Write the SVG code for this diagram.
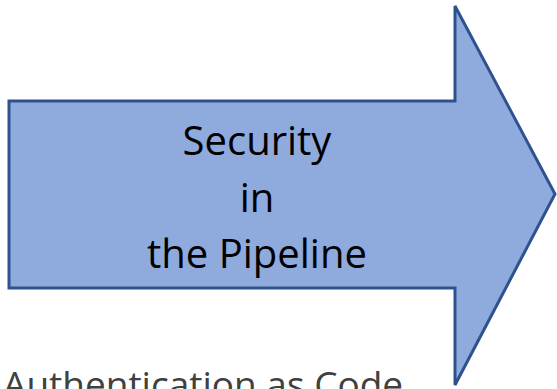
<svg xmlns="http://www.w3.org/2000/svg" width="557" height="389" viewBox="0 0 557 389">
<style>
.lbl{font-family:"Open Sans","Liberation Sans",sans-serif;font-size:40px;fill:#000;text-anchor:middle}
.sub{font-family:"Open Sans","Liberation Sans",sans-serif;font-size:37px;fill:#404040}
</style>
<g id="arrow">
<path d="M9,101 L455,101 L455,6 L555,194 L455,385 L455,288 L9,288 Z" fill="#8FAADC" stroke="#2F528F" stroke-width="3" stroke-linejoin="miter"/>
<text class="lbl" x="257" y="155">Security</text>
<text class="lbl" x="257" y="212">in</text>
<text class="lbl" x="257" y="268">the Pipeline</text>
</g>
<g id="connectors"></g>
<text id="caption" class="sub" x="3" y="398">Authentication as Code</text>
</svg>
